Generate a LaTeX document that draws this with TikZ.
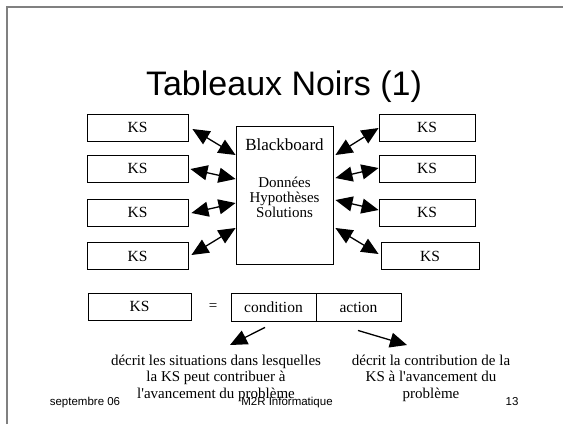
\documentclass[tikz,border=0pt]{standalone}
\usepackage{fontspec}
\setmainfont{Liberation Serif}[Ligatures=TeXOff]
\newfontfamily\arialf{Liberation Sans}
\usetikzlibrary{arrows.meta,calc}
\begin{document}
\begin{tikzpicture}[x=1pt,y=-1pt,
  ksbox/.style={draw, line width=0.9pt, inner sep=0pt, font=\fontsize{15.5}{16}\selectfont},
  dbl/.style={line width=1.3pt, {Triangle[length=17pt,width=15pt]}-{Triangle[length=17pt,width=15pt]}},
  sgl/.style={line width=1.3pt, -{Triangle[length=17pt,width=15pt]}},
  body/.style={font=\fontsize{15}{16.5}\selectfont, align=center, inner sep=0pt},
  foot/.style={font=\arialf\fontsize{11.5}{12}\selectfont, inner sep=0pt}]
\useasboundingbox (0,0) rectangle (563,424);
\draw[gray, line width=1.5pt] (7,424) -- (7,7) -- (563,7);
\node[font=\arialf\fontsize{34}{36}\selectfont, inner sep=0pt] (title) at (284,87) {Tableaux Noirs (1)};
% left boxes
\node[ksbox, minimum width=101pt, minimum height=27pt] (l1) at (137.5,127.5) {KS};
\node[ksbox, minimum width=101pt, minimum height=27pt] (l2) at (137.5,168.5) {KS};
\node[ksbox, minimum width=101pt, minimum height=27pt] (l3) at (137.5,212.5) {KS};
\node[ksbox, minimum width=101pt, minimum height=27pt] (l4) at (137.5,256) {KS};
% right boxes
\node[ksbox, minimum width=96pt, minimum height=27pt] (r1) at (427,127.5) {KS};
\node[ksbox, minimum width=96pt, minimum height=27pt] (r2) at (427,168.5) {KS};
\node[ksbox, minimum width=96pt, minimum height=27pt] (r3) at (427,212.5) {KS};
\node[ksbox, minimum width=98pt, minimum height=27pt] (r4) at (430,256) {KS};
% blackboard
\node[draw, line width=0.9pt, minimum width=97pt, minimum height=138pt, inner sep=0pt] (bb) at (284.5,195) {};
\node[font=\fontsize{17}{18}\selectfont, inner sep=0pt] (bbt) at (284.5,145) {Blackboard};
\node[body, font=\fontsize{15}{15}\selectfont] (bbc) at (284.5,197) {Données\\Hypothèses\\Solutions};
% arrows left
\draw[dbl] ([shift={(4,1.5)}]l1.east) -- ([shift={(0,-40)}]bb.west);
\draw[dbl] ([shift={(2,0.5)}]l2.east) -- ([shift={(0,-16)}]bb.west);
\draw[dbl] ([shift={(3,0.5)}]l3.east) -- ([shift={(0,8)}]bb.west);
\draw[dbl] ([shift={(3,-1)}]l4.east) -- ([shift={(0,33)}]bb.west);
% arrows right
\draw[dbl] ([shift={(2,-40)}]bb.east) -- ([shift={(0,0.5)}]r1.west);
\draw[dbl] ([shift={(2,-17)}]bb.east) -- ([shift={(0,-0.5)}]r2.west);
\draw[dbl] ([shift={(2,5)}]bb.east) -- ([shift={(0,-2.5)}]r3.west);
\draw[dbl] ([shift={(2,33)}]bb.east) -- ([shift={(-2,-2)}]r4.west);
% bottom row
\node[ksbox, minimum width=103pt, minimum height=27pt] (ks) at (139.5,306.5) {KS};
\node[font=\fontsize{15}{16}\selectfont, inner sep=0pt] (eq) at (213,307) {=};
\node[ksbox, minimum width=85pt, minimum height=28pt] (cond) at (273.5,307) {condition};
\node[ksbox, minimum width=85pt, minimum height=28pt] (act) at (358.5,307) {action};
\coordinate (ct) at (230,345);
\coordinate (at) at (407,345);
\draw[sgl] ([shift={(-8.5,6)}]cond.south) -- (ct);
\draw[sgl] ([shift={(-0.5,9)}]act.south) -- (at);
\node[body] (txtl) at (216,378) {décrit les situations dans lesquelles\\la KS peut contribuer à\\l'avancement du problème};
\node[body] (txtr) at (431,378) {décrit la contribution de la\\KS à l'avancement du\\problème};
% footer
\node[foot] (f1) at (85,403) {septembre 06};
\node[foot] (f2) at (287,403) {M2R Informatique};
\node[foot] (f3) at (512,402) {13};
\end{tikzpicture}
\end{document}
